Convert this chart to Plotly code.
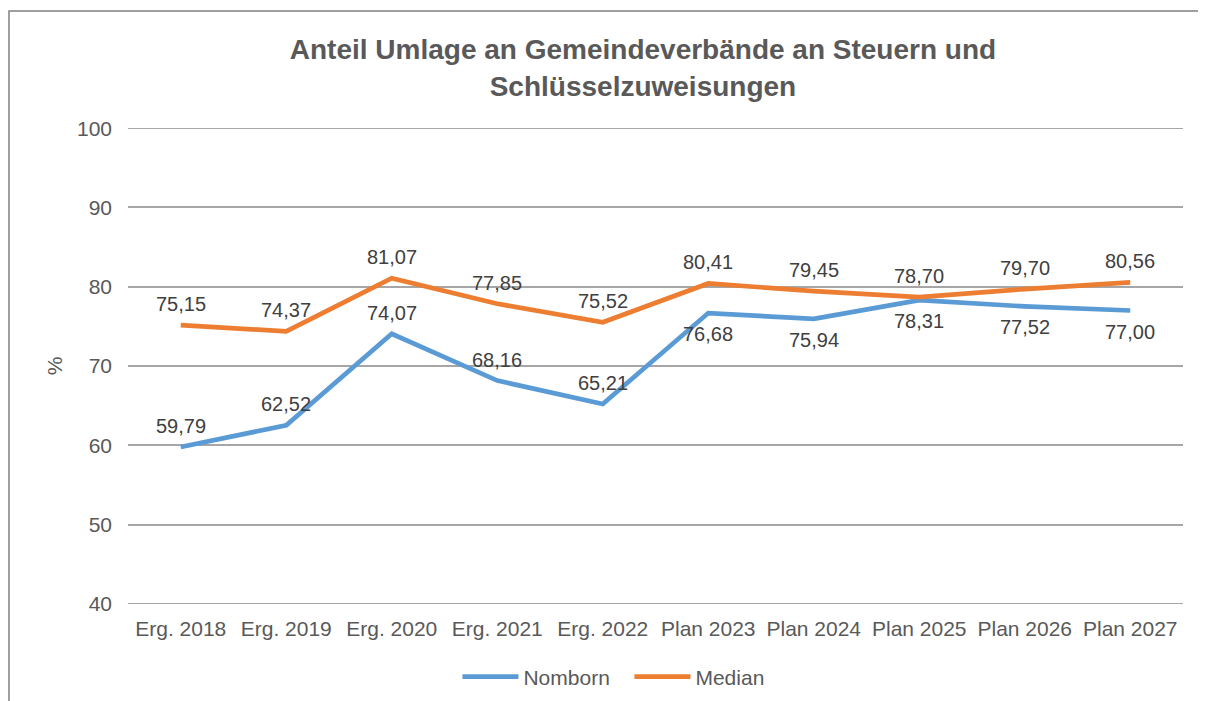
import plotly.graph_objects as go

categories = ["Erg. 2018", "Erg. 2019", "Erg. 2020", "Erg. 2021", "Erg. 2022",
              "Plan 2023", "Plan 2024", "Plan 2025", "Plan 2026", "Plan 2027"]
nomborn = [59.79, 62.52, 74.07, 68.16, 65.21, 76.68, 75.94, 78.31, 77.52, 77.00]
median = [75.15, 74.37, 81.07, 77.85, 75.52, 80.41, 79.45, 78.70, 79.70, 80.56]
y_ticks = [40, 50, 60, 70, 80, 90, 100]
# label side: +1 above the point, -1 below
nomborn_side = [1, 1, 1, 1, 1, -1, -1, -1, -1, -1]
median_side = [1] * 10


def fmt(v):
    return f"{v:.2f}".replace(".", ",")


FONT = "Liberation Sans, Arial, sans-serif"
LABEL_GAP = 21
GRID = "#A6A6A6"

fig = go.Figure()
fig.add_trace(go.Scatter(
    x=categories, y=nomborn, name="Nomborn", mode="lines",
    line=dict(color="#5B9BD5", width=4.7),
))
fig.add_trace(go.Scatter(
    x=categories, y=median, name="Median", mode="lines",
    line=dict(color="#ED7D31", width=4.7),
))

annotations = []
for vals, sides in ((nomborn, nomborn_side), (median, median_side)):
    for c, v, s in zip(categories, vals, sides):
        annotations.append(dict(
            x=c, y=v, xref="x", yref="y", text=fmt(v), showarrow=False,
            yshift=s * LABEL_GAP, xanchor="center", yanchor="middle",
            font=dict(family=FONT, size=20, color="#404040"),
        ))

shapes = [dict(
    type="rect", xref="paper", yref="paper",
    x0=-0.1128, x1=1.2, y0=-0.4, y1=1.2458,
    line=dict(color="#808080", width=1.5), layer="below",
)]
# edge grid lines (plotly drops grid lines lying on the plot edges)
for t in (y_ticks[0], y_ticks[-1]):
    shapes.append(dict(
        type="line", xref="paper", yref="y", x0=0, x1=1, y0=t, y1=t,
        line=dict(color=GRID, width=1.5), layer="below",
    ))

fig.update_layout(
    width=1206, height=701,
    margin=dict(l=120, r=31, t=120, b=105),
    paper_bgcolor="white", plot_bgcolor="white",
    font=dict(family=FONT, color="#595959"),
    title=dict(
        text="<b>Anteil Umlage an Gemeindeverbände an Steuern und<br>Schlüsselzuweisungen</b>",
        x=0.5265, xanchor="center", y=0.927, yanchor="middle",
        font=dict(family=FONT, size=28, color="#595959"),
    ),
    xaxis=dict(
        type="category", showgrid=False, zeroline=False, showline=False,
        ticks="", tickfont=dict(family=FONT, size=21, color="#595959"),
        range=[-0.5, 9.5], ticklabelstandoff=10,
    ),
    yaxis=dict(
        range=[39.98, 100.02], tickvals=y_ticks,
        showgrid=True, gridcolor=GRID, gridwidth=1.5,
        zeroline=False, showline=False, ticks="",
        tickfont=dict(family=FONT, size=21, color="#595959"),
        ticklabelstandoff=15,
        title=dict(text="%", font=dict(family=FONT, size=21, color="#595959"), standoff=8),
    ),
    showlegend=True,
    legend=dict(
        orientation="h", x=0.4753, xanchor="center", y=-0.1534, yanchor="middle",
        font=dict(family=FONT, size=21, color="#595959"),
        itemwidth=56, entrywidth=101, entrywidthmode="pixels",
    ),
    annotations=annotations,
    shapes=shapes,
)

fig.write_html("out.html")
